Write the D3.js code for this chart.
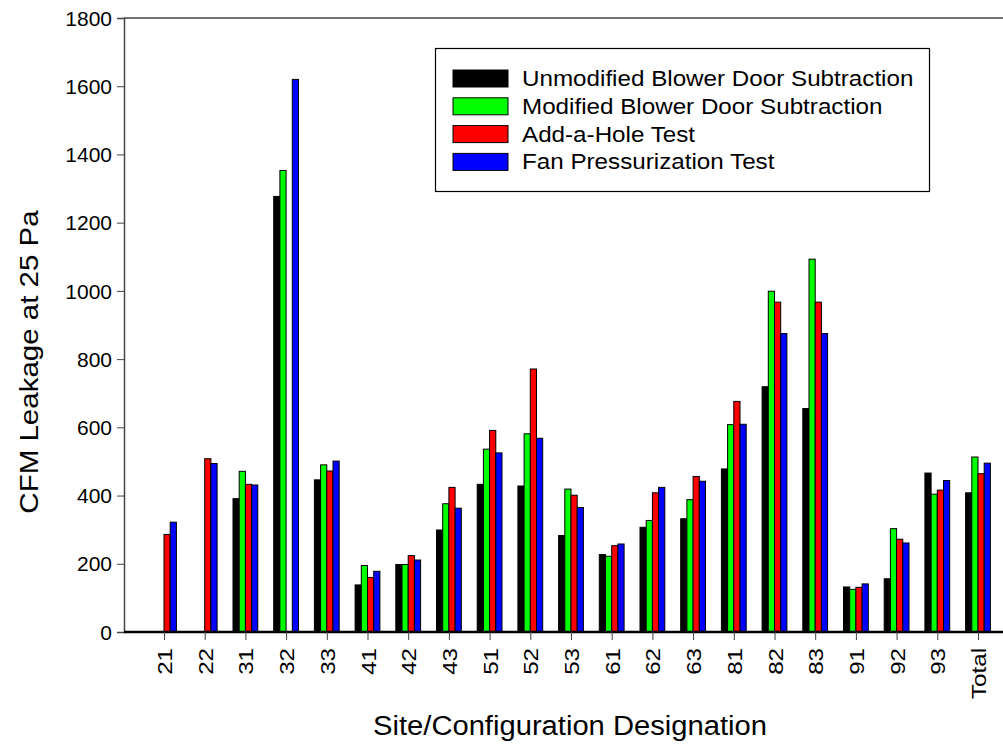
<!DOCTYPE html>
<meta charset="utf-8">
<head>
<style>
body { margin: 0; background: #fff; }
text { font-family: Arial, "Liberation Sans", sans-serif; fill: #000; }
</style>
</head>
<body>
<div id="chart"></div>
<script src="https://d3js.org/d3.v7.min.js"></script>
<script>

// site / configuration groups
const categories = ["21","22","31","32","33","41","42","43","51","52","53","61","62","63","81","82","83","91","92","93","Total"];

// CFM leakage at 25 Pa (0 = no bar)
const unmodified = [0,0,391,1277,446,138,198,299,433,428,283,227,307,332,478,719,655,132,156,466,408];
const modified   = [0,0,471,1353,490,195,198,376,536,581,419,222,327,388,608,999,1093,125,303,404,513];
const addAHole   = [286,508,433,0,472,160,224,424,591,771,401,253,408,456,676,967,967,131,272,416,464];
const fanPress   = [322,494,431,1620,501,178,211,363,525,568,365,258,424,442,609,875,875,141,261,444,495];

const seriesNames = ["Unmodified Blower Door Subtraction","Modified Blower Door Subtraction","Add-a-Hole Test","Fan Pressurization Test"];
const seriesColors = ["#000000","#00ff00","#ff0000","#0000ff"];
const yTicks = [0,200,400,600,800,1000,1200,1400,1600,1800];

const W = 1003, H = 746;
const plotLeft = 124, plotTop = 18, plotBottom = 632;

const svg = d3.select("#chart").append("svg")
    .attr("width", W)
    .attr("height", H);

// x: category index, one empty slot of padding each side
const x = d3.scaleLinear().domain([-1, 21]).range([123.3, 1018.7]);
const y = d3.scaleLinear().domain([0, 1800]).range([plotBottom, plotTop]);

const barW = 6.2;
const allSeries = [unmodified, modified, addAHole, fanPress];

// stretch text a bit wider, the original fonts are wide
function stretch(sel, k) {
  sel.each(function() {
    const L = this.getComputedTextLength();
    d3.select(this).attr("textLength", L * k).attr("lengthAdjust", "spacingAndGlyphs");
  });
}

// bars
allSeries.forEach((vals, s) => {
  svg.append("g").selectAll("rect")
    .data(vals.map((v, i) => ({v: v, i: i})).filter(d => d.v > 0))
    .enter()
    .append("rect")
    .attr("x", d => x(d.i) - 2 * barW + s * barW)
    .attr("y", d => y(d.v))
    .attr("width", barW)
    .attr("height", d => y(0) - y(d.v))
    .attr("fill", seriesColors[s])
    .attr("stroke", "#000")
    .attr("stroke-width", 1);
});

// top frame line
svg.append("line")
  .attr("x1", plotLeft).attr("x2", W)
  .attr("y1", plotTop).attr("y2", plotTop)
  .attr("stroke", "#444").attr("stroke-width", 1.5);

// y axis
const yAxis = svg.append("g")
  .attr("transform", "translate(" + plotLeft + ",0)")
  .call(d3.axisLeft(y).tickValues(yTicks).tickSize(7).tickPadding(5).tickFormat(d3.format("d")));
yAxis.select(".domain").attr("stroke", "#444").attr("stroke-width", 1.5);
yAxis.selectAll(".tick line").attr("stroke", "#444");
yAxis.selectAll("text").style("font-size", "20px").attr("dy", "0.36em")
  .call(stretch, 1.05);

// x axis
const xAxis = svg.append("g")
  .attr("transform", "translate(0," + plotBottom + ")")
  .call(d3.axisBottom(x).tickValues(d3.range(categories.length)).tickSize(8).tickSizeOuter(0).tickFormat(i => categories[i]));
xAxis.select(".domain").attr("stroke", "#000").attr("stroke-width", 2.5)
  .attr("d", "M" + plotLeft + ",0H" + W);
xAxis.selectAll(".tick line").attr("stroke", "#444");
xAxis.selectAll("text")
  .style("font-size", "21px")
  .attr("text-anchor", "end")
  .attr("transform", "rotate(-90)")
  .attr("x", -16)
  .attr("y", 0)
  .attr("dy", "0.36em")
  .call(stretch, 1.15);

// axis titles
svg.append("text")
  .attr("transform", "translate(38,362) rotate(-90)")
  .attr("text-anchor", "middle")
  .style("font-size", "25px")
  .text("CFM Leakage at 25 Pa")
  .call(stretch, 1.18);

svg.append("text")
  .attr("x", 570)
  .attr("y", 735)
  .attr("text-anchor", "middle")
  .style("font-size", "27px")
  .text("Site/Configuration Designation")
  .call(stretch, 1.08);

// legend
const legend = svg.append("g");
legend.append("rect")
  .attr("x", 435.5).attr("y", 48.5)
  .attr("width", 494).attr("height", 143)
  .attr("fill", "#fff").attr("stroke", "#000").attr("stroke-width", 1.2);

seriesNames.forEach((name, s) => {
  const ry = 70 + s * 27.8;
  legend.append("rect")
    .attr("x", 453).attr("y", ry)
    .attr("width", 55).attr("height", 17)
    .attr("fill", seriesColors[s])
    .attr("stroke", "#000").attr("stroke-width", 1);
  legend.append("text")
    .attr("x", 522).attr("y", ry + 16)
    .style("font-size", "22px")
    .text(name)
    .call(stretch, 1.1);
});

</script>
</body>
</html>
